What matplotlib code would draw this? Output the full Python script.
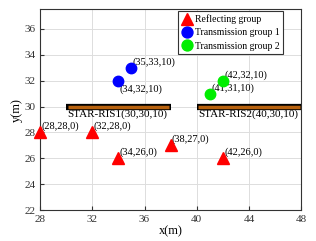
import matplotlib.pyplot as plt

plt.rcParams['font.family'] = ['Liberation Serif', 'DejaVu Serif']

refl_x = [28, 32, 34, 38, 42]
refl_y = [28, 28, 26, 27, 26]
refl_labels = ["(28,28,0)", "(32,28,0)", "(34,26,0)", "(38,27,0)", "(42,26,0)"]

tx1_x = [34, 35]
tx1_y = [32, 33]
tx1_labels = ["(34,32,10)", "(35,33,10)"]

tx2_x = [41, 42]
tx2_y = [31, 32]
tx2_labels = ["(41,31,10)", "(42,32,10)"]

ris_x0 = [30, 40]
ris_x1 = [38, 48]
ris_y = 30
ris_labels = ["STAR-RIS1(30,30,10)", "STAR-RIS2(40,30,10)"]

fig = plt.figure(figsize=(3.16, 2.41), dpi=100)
ax = fig.add_axes([0.127, 0.128, 0.826, 0.833])

# STAR-RIS panels drawn as thick black bars with brown core
for i in range(2):
    ax.plot([ris_x0[i], ris_x1[i]], [ris_y, ris_y], color="black", lw=4.5, solid_capstyle="butt", zorder=3)
    ax.plot([ris_x0[i] + 0.1, ris_x1[i] - 0.1], [ris_y, ris_y], color="#b8620e", lw=2.5, solid_capstyle="butt", zorder=4)
    ax.text(ris_x0[i] + 0.1, ris_y - 0.25, ris_labels[i], fontsize=8, va="top", ha="left")

ax.plot(refl_x, refl_y, "^", color="red", ms=8.5, ls="none", label="Reflecting group", zorder=5, clip_on=False)
ax.plot(tx1_x, tx1_y, "o", color="blue", ms=7.5, ls="none", label="Transmission group 1", zorder=5)
ax.plot(tx2_x, tx2_y, "o", color="#00ee00", ms=7.5, ls="none", label="Transmission group 2", zorder=5)

for i in range(len(refl_x)):
    ax.text(refl_x[i] + 0.1, refl_y[i] + 0.1, refl_labels[i], fontsize=7.5, va="bottom", ha="left")

ax.text(tx1_x[0] + 0.05, tx1_y[0] - 0.3, tx1_labels[0], fontsize=7.5, va="top", ha="left")
ax.text(tx1_x[1] + 0.1, tx1_y[1] + 0.05, tx1_labels[1], fontsize=7.5, va="bottom", ha="left")
ax.text(tx2_x[0] + 0.1, tx2_y[0] + 0.05, tx2_labels[0], fontsize=7.5, va="bottom", ha="left")
ax.text(tx2_x[1] + 0.1, tx2_y[1] + 0.05, tx2_labels[1], fontsize=7.5, va="bottom", ha="left")

ax.set_xlim(28, 48)
ax.set_ylim(22, 37.5)
ax.set_xticks([28, 32, 36, 40, 44, 48])
ax.set_yticks([22, 24, 26, 28, 30, 32, 34, 36])
ax.tick_params(labelsize=8, direction="in", length=3, colors="#333333")
ax.set_xlabel("x(m)", fontsize=9, labelpad=1)
ax.set_ylabel("y(m)", fontsize=9, labelpad=1)
ax.grid(True, color="#dddddd", lw=0.7)
ax.set_axisbelow(True)
for s in ax.spines.values():
    s.set_color("#333333")
    s.set_linewidth(0.8)

leg = ax.legend(loc="upper right", bbox_to_anchor=(0.93, 0.99), fontsize=7, handlelength=1.4, handletextpad=0.1,
                borderpad=0.3, labelspacing=0.45, fancybox=False, framealpha=1, borderaxespad=0.0, markerscale=1.05)
leg.get_frame().set_edgecolor("#333333")
leg.get_frame().set_linewidth(0.8)

fig.savefig("out.png", dpi=100)
